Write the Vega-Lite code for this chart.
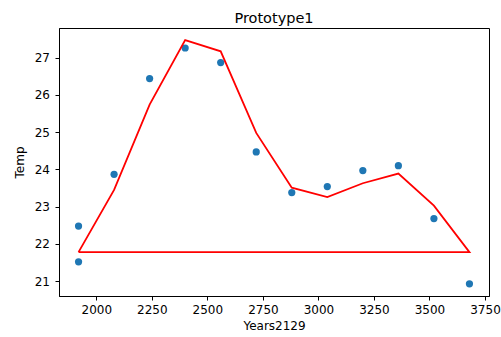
{
  "$schema": "https://vega.github.io/schema/vega-lite/v6.json",
  "width": 430,
  "height": 268,
  "autosize": {"type": "none"},
  "padding": {"left": 59, "top": 28, "right": 12, "bottom": 41},
  "background": "white",
  "title": {"text": "Prototype1", "fontSize": 14.5, "fontWeight": "normal", "font": "DejaVu Sans", "color": "black", "offset": 4, "dy": 16, "baseline": "bottom", "anchor": "middle", "frame": "group"},
  "config": {
    "view": {"stroke": "black", "strokeWidth": 1},
    "axis": {"grid": false, "domainColor": "black", "domainWidth": 1, "tickColor": "black", "tickWidth": 1, "tickSize": 4, "labelFont": "DejaVu Sans", "labelFontSize": 12, "labelColor": "black", "titleFont": "DejaVu Sans", "titleFontSize": 12, "titleFontWeight": "normal", "titleColor": "black"}
  },
  "datasets": {
    "pts": [
      {"year": 1920, "temp": 22.48},
      {"year": 1920, "temp": 21.52},
      {"year": 2080, "temp": 23.87},
      {"year": 2240, "temp": 26.44},
      {"year": 2400, "temp": 27.26},
      {"year": 2560, "temp": 26.87},
      {"year": 2720, "temp": 24.47},
      {"year": 2880, "temp": 23.38},
      {"year": 3040, "temp": 23.54},
      {"year": 3200, "temp": 23.97},
      {"year": 3360, "temp": 24.10},
      {"year": 3520, "temp": 22.68},
      {"year": 3680, "temp": 20.93}
    ],
    "fit": [
      {"i": 0, "year": 1920, "temp": 21.78},
      {"i": 1, "year": 2080, "temp": 23.45},
      {"i": 2, "year": 2240, "temp": 25.74},
      {"i": 3, "year": 2400, "temp": 27.47},
      {"i": 4, "year": 2560, "temp": 27.17},
      {"i": 5, "year": 2720, "temp": 24.98},
      {"i": 6, "year": 2880, "temp": 23.51},
      {"i": 7, "year": 3040, "temp": 23.26},
      {"i": 8, "year": 3200, "temp": 23.63},
      {"i": 9, "year": 3360, "temp": 23.89},
      {"i": 10, "year": 3520, "temp": 23.03},
      {"i": 11, "year": 3680, "temp": 21.78},
      {"i": 12, "year": 1920, "temp": 21.78}
    ]
  },
  "encoding": {
    "x": {"field": "year", "type": "quantitative", "scale": {"domain": [1832, 3768], "nice": false, "zero": false},
          "axis": {"values": [2000, 2250, 2500, 2750, 3000, 3250, 3500, 3750], "format": "d", "labelPadding": 4, "title": "Years2129", "titlePadding": 5, "labelFlush": false}},
    "y": {"field": "temp", "type": "quantitative", "scale": {"domain": [20.603, 27.797], "nice": false, "zero": false},
          "axis": {"values": [21, 22, 23, 24, 25, 26, 27], "format": "d", "labelPadding": 5.5, "title": "Temp", "titlePadding": 8, "labelFlush": false}}
  },
  "layer": [
    {"data": {"name": "pts"}, "mark": {"type": "circle", "size": 52, "color": "#1f77b4", "opacity": 1}},
    {"data": {"name": "fit"}, "mark": {"type": "line", "color": "#ff0000", "strokeWidth": 1.8}, "encoding": {"order": {"field": "i", "type": "quantitative"}}}
  ]
}
